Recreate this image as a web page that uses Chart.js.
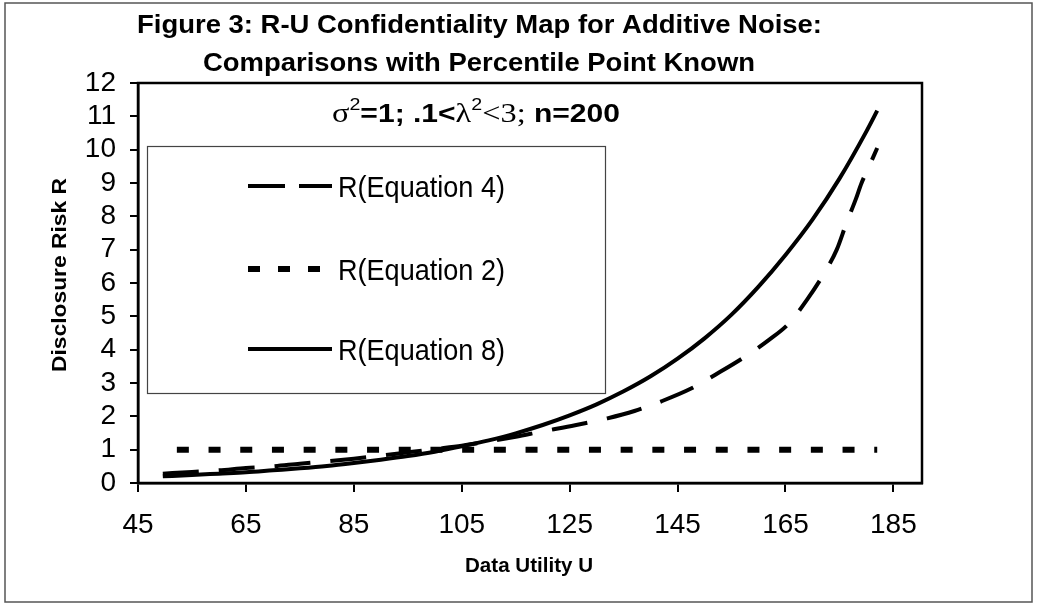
<!DOCTYPE html>
<html lang="en">
<head>
    <meta charset="UTF-8">
    <title>R-U Confidentiality Map</title>
    <script src="https://cdn.jsdelivr.net/npm/chart.js"></script>
    <style>
        body {
            margin: 0;
            padding: 0;
            background: #ffffff;
        }
        #wrap {
            width: 1037px;
            height: 604px;
        }
    </style>
</head>
<body>
    <div id="wrap">
        <canvas id="ruChart" width="1037" height="604"></canvas>
    </div>

    <script>
        // Data
        const xTicks = [45, 65, 85, 105, 125, 145, 165, 185];
        const yTicks = [0, 1, 2, 3, 4, 5, 6, 7, 8, 9, 10, 11, 12];

        const eq4U = [49.6, 55, 60, 65, 70, 75, 80, 85, 90, 95, 100, 105, 110, 115, 120, 126, 132, 137, 142, 147.6, 152, 157.4, 162, 165.7, 169, 172.2, 174.5, 176.3, 178, 179.1, 180.5, 182];
        const eq4R = [0.28, 0.33, 0.38, 0.45, 0.50, 0.58, 0.65, 0.73, 0.82, 0.92, 1.02, 1.12, 1.25, 1.39, 1.55, 1.73, 1.94, 2.16, 2.45, 2.84, 3.25, 3.78, 4.3, 4.8, 5.5, 6.3, 7.0, 7.8, 8.5, 9.0, 9.5, 10.05];

        const eq2U = [52.2, 182];
        const eq2R = [1, 1];

        const eq8U = [49.6, 55, 60, 65, 70, 75, 80, 85, 90, 95, 100, 105, 110, 115, 120, 125, 130, 135, 140, 145, 150, 155, 160, 165, 170, 175, 180, 182];
        const eq8R = [0.20, 0.24, 0.28, 0.32, 0.38, 0.44, 0.51, 0.60, 0.70, 0.81, 0.94, 1.10, 1.28, 1.49, 1.74, 2.03, 2.36, 2.75, 3.20, 3.73, 4.34, 5.05, 5.89, 6.84, 7.90, 9.13, 10.55, 11.17];

        const seriesNames = ['R(Equation 4)', 'R(Equation 2)', 'R(Equation 8)'];

        const SANS = '"Liberation Sans", Arial, sans-serif';
        const SERIF = '"Liberation Serif", "Times New Roman", serif';

        function toPoints(xs, ys) {
            return xs.map((x, i) => ({ x: x, y: ys[i] }));
        }

        // draw text squeezed/stretched to a given width
        function fitText(ctx, text, x, y, width, align) {
            const w = ctx.measureText(text).width;
            const sx = width / w;
            ctx.save();
            ctx.textAlign = 'left';
            let left = x;
            if (align === 'center') left = x - width / 2;
            ctx.translate(left, y);
            ctx.scale(sx, 1);
            ctx.fillText(text, 0, 0);
            ctx.restore();
        }

        const decorPlugin = {
            id: 'decor',
            afterDraw(chart) {
                const ctx = chart.ctx;
                const a = chart.chartArea;
                ctx.save();

                // outer frame
                ctx.strokeStyle = '#555';
                ctx.lineWidth = 1.5;
                ctx.strokeRect(5, 3, 1027, 599);

                // plot frame
                ctx.strokeStyle = '#000';
                ctx.lineWidth = 2.5;
                ctx.strokeRect(a.left, a.top, a.right - a.left, a.bottom - a.top);

                ctx.fillStyle = '#000';
                ctx.textBaseline = 'alphabetic';

                // title
                ctx.font = 'bold 26px ' + SANS;
                fitText(ctx, 'Figure 3: R-U Confidentiality Map for Additive Noise:', 479.5, 33, 685, 'center');
                fitText(ctx, 'Comparisons with Percentile Point Known', 479, 71, 552, 'center');

                // subtitle with mixed fonts
                const parts = [
                    { t: '\u03c3', f: '28px ' + SERIF, dy: 0 },
                    { t: '2', f: '17px ' + SANS, dy: -12 },
                    { t: '=1; .1<', f: 'bold 26px ' + SANS, dy: 0 },
                    { t: '\u03bb', f: '28px ' + SERIF, dy: 0 },
                    { t: '2', f: '17px ' + SANS, dy: -12 },
                    { t: '<3;', f: '28px ' + SERIF, dy: 0 },
                    { t: ' n=200', f: 'bold 26px ' + SANS, dy: 0 }
                ];
                let total = 0;
                parts.forEach(p => { ctx.font = p.f; p.w = ctx.measureText(p.t).width; total += p.w; });
                const sx = 288 / total;
                ctx.save();
                ctx.translate(332, 122);
                ctx.scale(sx, 1);
                let cx = 0;
                parts.forEach(p => {
                    ctx.font = p.f;
                    ctx.fillText(p.t, cx, p.dy);
                    cx += p.w;
                });
                ctx.restore();

                // axis titles
                ctx.font = 'bold 20px ' + SANS;
                ctx.save();
                ctx.translate(66, 275);
                ctx.rotate(-Math.PI / 2);
                fitText(ctx, 'Disclosure Risk R', 0, 0, 194, 'center');
                ctx.restore();
                fitText(ctx, 'Data Utility U', 529, 572, 128, 'center');

                // legend box
                ctx.strokeStyle = '#444';
                ctx.lineWidth = 1.2;
                ctx.strokeRect(147.5, 146.5, 458, 247);

                const rows = [186, 269, 349];
                chart.data.datasets.forEach((ds, i) => {
                    const y = rows[i];
                    ctx.save();
                    ctx.strokeStyle = ds.borderColor;
                    ctx.lineWidth = ds.borderWidth;
                    ctx.lineCap = 'butt';
                    ctx.setLineDash(ds.legendDash || []);
                    ctx.beginPath();
                    ctx.moveTo(248, y);
                    ctx.lineTo(332, y);
                    ctx.stroke();
                    ctx.restore();
                    ctx.font = '29px ' + SANS;
                    ctx.textBaseline = 'middle';
                    fitText(ctx, ds.label, 338, y + 3, 167, 'left');
                });

                ctx.restore();
            }
        };

        const ctx = document.getElementById('ruChart').getContext('2d');
        const chart = new Chart(ctx, {
            type: 'line',
            data: {
                datasets: [
                    {
                        label: seriesNames[0],
                        data: toPoints(eq4U, eq4R),
                        borderColor: '#000',
                        borderWidth: 4,
                        borderDash: [36, 20],
                        legendDash: [37, 14],
                        pointRadius: 0,
                        cubicInterpolationMode: 'monotone'
                    },
                    {
                        label: seriesNames[1],
                        data: toPoints(eq2U, eq2R),
                        borderColor: '#000',
                        borderWidth: 6,
                        borderDash: [12, 19.7],
                        legendDash: [12, 18],
                        pointRadius: 0
                    },
                    {
                        label: seriesNames[2],
                        data: toPoints(eq8U, eq8R),
                        borderColor: '#000',
                        borderWidth: 4,
                        pointRadius: 0,
                        cubicInterpolationMode: 'monotone'
                    }
                ]
            },
            options: {
                responsive: false,
                animation: false,
                layout: {
                    padding: { top: 83, right: 115, left: 0, bottom: 0 }
                },
                plugins: {
                    legend: { display: false },
                    tooltip: { enabled: false }
                },
                scales: {
                    x: {
                        type: 'linear',
                        min: 45,
                        max: 190.3,
                        afterBuildTicks: (scale) => {
                            scale.ticks = xTicks.map(v => ({ value: v }));
                        },
                        afterFit: (scale) => { scale.height = 121; },
                        grid: {
                            drawOnChartArea: false,
                            drawTicks: true,
                            tickLength: 9,
                            color: '#000',
                            lineWidth: 2
                        },
                        border: { display: true, color: '#000', width: 2.5 },
                        ticks: {
                            color: '#000',
                            padding: 16,
                            maxRotation: 0,
                            autoSkip: false,
                            font: { family: SANS, size: 28 }
                        }
                    },
                    y: {
                        min: 0,
                        max: 12,
                        afterBuildTicks: (scale) => {
                            scale.ticks = yTicks.map(v => ({ value: v }));
                        },
                        afterFit: (scale) => { scale.width = 138; },
                        grid: {
                            drawOnChartArea: false,
                            drawTicks: true,
                            tickLength: 8,
                            color: '#000',
                            lineWidth: 2
                        },
                        border: { display: true, color: '#000', width: 2.5 },
                        ticks: {
                            color: '#000',
                            padding: 14,
                            autoSkip: false,
                            font: { family: SANS, size: 28 }
                        }
                    }
                }
            },
            plugins: [decorPlugin]
        });
    </script>
</body>
</html>
